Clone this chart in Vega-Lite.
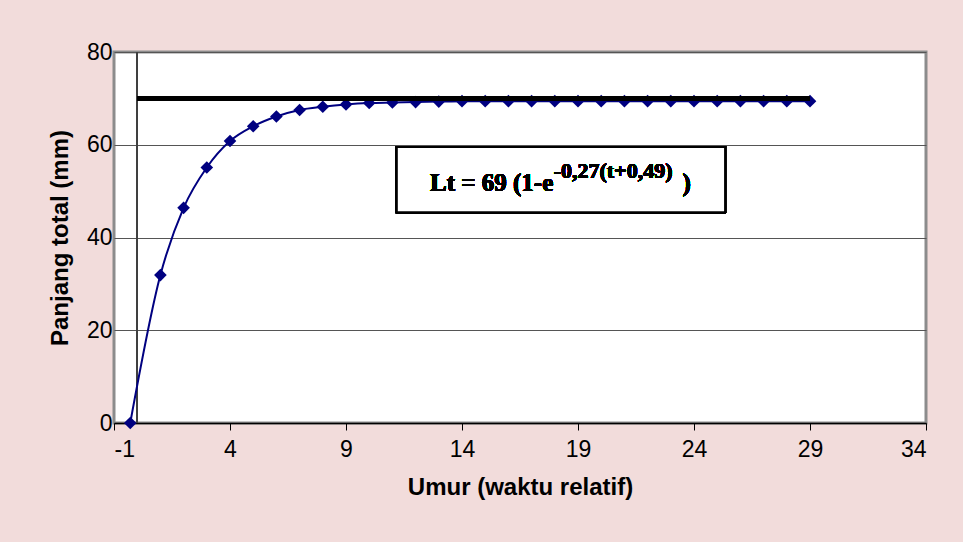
{
  "$schema": "https://vega.github.io/schema/vega-lite/v6.json",
  "width": 812,
  "height": 371,
  "autosize": {"type": "none"},
  "padding": {"left": 114, "top": 52, "right": 37, "bottom": 119},
  "background": "#f2dcdb",
  "config": {
    "view": {"fill": "#ffffff", "stroke": "#8c8c8c", "strokeWidth": 3},
    "font": "Liberation Sans"
  },
  "data": {
    "values": [
      {"t": -0.3, "L": 0},
      {"t": 1, "L": 31.9},
      {"t": 2, "L": 46.4},
      {"t": 3, "L": 55.1},
      {"t": 4, "L": 60.8},
      {"t": 5, "L": 64.0},
      {"t": 6, "L": 66.1},
      {"t": 7, "L": 67.5},
      {"t": 8, "L": 68.2},
      {"t": 9, "L": 68.7},
      {"t": 10, "L": 69.0},
      {"t": 11, "L": 69.1},
      {"t": 12, "L": 69.2},
      {"t": 13, "L": 69.3},
      {"t": 14, "L": 69.4},
      {"t": 15, "L": 69.4},
      {"t": 16, "L": 69.4},
      {"t": 17, "L": 69.4},
      {"t": 18, "L": 69.4},
      {"t": 19, "L": 69.4},
      {"t": 20, "L": 69.4},
      {"t": 21, "L": 69.4},
      {"t": 22, "L": 69.4},
      {"t": 23, "L": 69.4},
      {"t": 24, "L": 69.4},
      {"t": 25, "L": 69.4},
      {"t": 26, "L": 69.4},
      {"t": 27, "L": 69.4},
      {"t": 28, "L": 69.4},
      {"t": 29, "L": 69.4}
    ]
  },
  "encoding": {
    "x": {
      "field": "t", "type": "quantitative",
      "scale": {"domain": [-1, 34], "nice": false, "zero": false},
      "axis": {
        "values": [-1, 4, 9, 14, 19, 24, 29, 34],
        "labelExpr": "datum.value < 0 ? '-' + abs(datum.value) : '' + datum.value",
        "grid": false,
        "title": "Umur (waktu relatif)",
        "titleFont": "Liberation Sans", "titleFontSize": 24, "titleFontWeight": "bold", "titleColor": "#000000",
        "titlePadding": 14,
        "labelFont": "Liberation Sans", "labelFontSize": 23, "labelColor": "#000000", "labelPadding": 8,
        "domainColor": "#000000", "domainWidth": 1.5,
        "tickColor": "#000000", "tickSize": 7, "tickWidth": 1
      }
    },
    "y": {
      "field": "L", "type": "quantitative",
      "scale": {"domain": [0, 80], "nice": false},
      "axis": {
        "values": [0, 20, 40, 60, 80],
        "grid": true, "gridColor": "#555555", "gridWidth": 1, "gridOpacity": 1,
        "domain": false, "ticks": false,
        "title": "Panjang total (mm)",
        "titleFont": "Liberation Sans", "titleFontSize": 24, "titleFontWeight": "bold", "titleColor": "#000000",
        "titlePadding": 14,
        "labelFont": "Liberation Sans", "labelFontSize": 23, "labelColor": "#000000", "labelPadding": 2
      }
    }
  },
  "layer": [
    {
      "mark": {"type": "rule", "color": "#404040", "strokeWidth": 1.5},
      "encoding": {"x": {"datum": 0}, "y": {"datum": 0}, "y2": {"datum": 80}}
    },
    {
      "mark": {
        "type": "line", "color": "#000080", "strokeWidth": 2, "interpolate": "monotone",
        "point": {"shape": "diamond", "filled": true, "size": 160, "color": "#000080", "opacity": 1}
      }
    },
    {
      "mark": {"type": "rule", "color": "#000000", "strokeWidth": 4},
      "encoding": {"x": {"datum": 0}, "x2": {"datum": 29}, "y": {"datum": 70}}
    },
    {
      "mark": {"type": "rect", "fill": "#ffffff", "stroke": "#000000", "strokeWidth": 2},
      "encoding": {"x": {"datum": 11.19}, "x2": {"datum": 25.34}, "y": {"datum": 59.49}, "y2": {"datum": 45.46}}
    },
    {
      "mark": {"type": "text", "text": "Lt = 69 (1-e", "font": "Liberation Serif", "fontSize": 25, "fontWeight": "bold", "align": "left", "baseline": "alphabetic", "color": "#000000"},
      "encoding": {"x": {"datum": 12.62}, "y": {"datum": 50.1}}
    },
    {
      "mark": {"type": "text", "text": "-0,27(t+0,49)", "font": "Liberation Serif", "fontSize": 22, "fontWeight": "bold", "align": "left", "baseline": "alphabetic", "color": "#000000"},
      "encoding": {"x": {"datum": 17.95}, "y": {"datum": 52.9}}
    },
    {
      "mark": {"type": "text", "text": ")", "font": "Liberation Serif", "fontSize": 25, "fontWeight": "bold", "align": "left", "baseline": "alphabetic", "color": "#000000"},
      "encoding": {"x": {"datum": 23.5}, "y": {"datum": 50.1}}
    }
  ]
}
